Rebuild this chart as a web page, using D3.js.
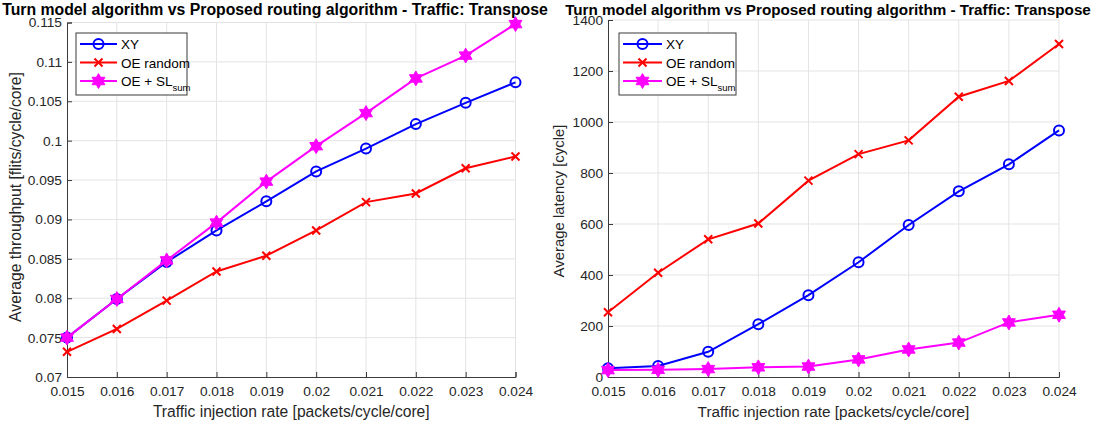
<!DOCTYPE html>
<html>
<head>
<meta charset="utf-8">
<script src="https://cdn.jsdelivr.net/npm/d3@7"></script>
<style>
  body { margin: 0; background: #fff; }
  svg { font-family: "Liberation Sans", Arial, sans-serif; }
</style>
</head>
<body>
<svg id="chart" width="1098" height="427"></svg>
<script>
// injection rates on the x axis
var rates = [0.015, 0.016, 0.017, 0.018, 0.019, 0.02, 0.021, 0.022, 0.023, 0.024]
var rateLabels = ['0.015', '0.016', '0.017', '0.018', '0.019', '0.02', '0.021', '0.022', '0.023', '0.024']

// throughput [flits/cycle/core]
var throughputXY = [0.0750, 0.0799, 0.0846, 0.0886, 0.0923, 0.0961, 0.0990, 0.1021, 0.1048, 0.1074]
var throughputOE = [0.0732, 0.0761, 0.0797, 0.0834, 0.0854, 0.0886, 0.0922, 0.0933, 0.0965, 0.0980]
var throughputSL = [0.0750, 0.0799, 0.0848, 0.0896, 0.0948, 0.0993, 0.1035, 0.1079, 0.1108, 0.1148]
var throughputTicks = [0.07, 0.075, 0.08, 0.085, 0.09, 0.095, 0.1, 0.105, 0.11, 0.115]
var throughputTickLabels = ['0.07', '0.075', '0.08', '0.085', '0.09', '0.095', '0.1', '0.105', '0.11', '0.115']

// latency [cycle]
var latencyXY = [34, 43, 99, 207, 321, 450, 596, 728, 834, 967]
var latencyOE = [254, 409, 540, 602, 770, 874, 928, 1099, 1161, 1306]
var latencySL = [27, 28, 31, 38, 41, 69, 108, 135, 214, 244]
var latencyTicks = [0, 200, 400, 600, 800, 1000, 1200, 1400]

var seriesNames = ['XY', 'OE random', 'OE + SL']
var seriesColors = ['#0000ff', '#ff0000', '#ff00ff']
var seriesMarkers = ['circle', 'cross', 'hexagram']

var title = 'Turn model algorithm vs Proposed routing algorithm - Traffic: Transpose'
var xTitle = 'Traffic injection rate [packets/cycle/core]'

var svg = d3.select('#chart')
var axisColor = '#3a3a3a'
var gridColor = '#e3e3e3'

// filled six-pointed star, as MATLAB's hexagram marker
var hexagram = {
  draw: function (context, size) {
    var R = Math.sqrt(size)
    var r = R / Math.sqrt(3)
    for (var i = 0; i < 12; i++) {
      var a = -Math.PI / 2 + i * Math.PI / 6
      var rr = i % 2 === 0 ? R : r
      if (i === 0) context.moveTo(rr * Math.cos(a), rr * Math.sin(a))
      else context.lineTo(rr * Math.cos(a), rr * Math.sin(a))
    }
    context.closePath()
  }
}

// scale font so the text spans the width measured on the picture
function fitText (sel, width) {
  var size = parseFloat(sel.style('font-size'))
  var w = sel.node().getComputedTextLength()
  sel.style('font-size', (size * width / w) + 'px')
}

function drawMarker (g, type, color, cx, cy) {
  if (type === 'circle') {
    g.append('circle').attr('cx', cx).attr('cy', cy).attr('r', 5)
      .attr('fill', 'none').attr('stroke', color).attr('stroke-width', 2)
  } else if (type === 'cross') {
    g.append('path')
      .attr('d', 'M' + (cx - 4) + ',' + (cy - 4) + 'L' + (cx + 4) + ',' + (cy + 4) +
        'M' + (cx - 4) + ',' + (cy + 4) + 'L' + (cx + 4) + ',' + (cy - 4))
      .attr('stroke', color).attr('stroke-width', 2)
  } else {
    g.append('path')
      .attr('transform', 'translate(' + cx + ',' + cy + ')')
      .attr('d', d3.symbol().type(hexagram).size(55)())
      .attr('fill', color).attr('stroke', color).attr('stroke-width', 1)
  }
}

function panel (opts) {
  var g = svg.append('g')
  var x = d3.scaleLinear().domain([rates[0], rates[rates.length - 1]]).range([opts.left, opts.right])
  var y = d3.scaleLinear().domain([opts.yTicks[0], opts.yTicks[opts.yTicks.length - 1]]).range([opts.bottom, opts.top])

  // grid
  g.append('g').selectAll('line').data(rates.slice(1)).enter().append('line')
    .attr('x1', function (d) { return x(d) }).attr('x2', function (d) { return x(d) })
    .attr('y1', opts.top).attr('y2', opts.bottom)
    .attr('stroke', gridColor).attr('stroke-width', 1)
  g.append('g').selectAll('line').data(opts.yTicks.slice(1)).enter().append('line')
    .attr('x1', opts.left).attr('x2', opts.right)
    .attr('y1', function (d) { return y(d) }).attr('y2', function (d) { return y(d) })
    .attr('stroke', gridColor).attr('stroke-width', 1)

  // axes with inward ticks
  var xAxis = d3.axisBottom(x).tickValues(rates).tickSize(-5).tickPadding(10)
    .tickFormat(function (d, i) { return rateLabels[i] })
  var yAxis = d3.axisLeft(y).tickValues(opts.yTicks).tickSize(-5).tickPadding(10)
    .tickFormat(function (d, i) { return opts.yLabels[i] })

  var gx = g.append('g').attr('transform', 'translate(0,' + opts.bottom + ')').call(xAxis)
  var gy = g.append('g').attr('transform', 'translate(' + opts.left + ',0)').call(yAxis)
  ;[gx, gy].forEach(function (a) {
    a.select('.domain').attr('stroke', axisColor)
    a.selectAll('.tick line').attr('stroke', axisColor)
    a.selectAll('.tick text').attr('fill', '#262626').style('font-size', '13.7px')
      .style('font-family', '"Liberation Sans", Arial, sans-serif')
  })
  gy.selectAll('.tick text').attr('x', -5)
  gx.selectAll('.tick text').attr('y', 9)

  // lines + markers
  var line = d3.line()
    .x(function (d, i) { return x(rates[i]) })
    .y(function (d) { return y(d) })

  opts.series.forEach(function (vals, k) {
    g.append('path').datum(vals)
      .attr('d', line).attr('fill', 'none')
      .attr('stroke', seriesColors[k]).attr('stroke-width', 2)
    var mg = g.append('g')
    vals.forEach(function (v, i) {
      drawMarker(mg, seriesMarkers[k], seriesColors[k], x(rates[i]), y(v))
    })
  })

  // title and axis labels
  var t = g.append('text').attr('x', opts.titleX).attr('y', 14.5)
    .attr('text-anchor', 'middle').style('font-size', '15px').style('font-weight', 'bold')
    .attr('fill', '#000').text(title)
  fitText(t, opts.titleW)
  var xl = g.append('text').attr('x', (opts.left + opts.right) / 2).attr('y', 417)
    .attr('text-anchor', 'middle').style('font-size', '14px').attr('fill', '#262626')
    .text(xTitle)
  fitText(xl, opts.xTitleW)
  var yl = g.append('text')
    .attr('transform', 'translate(' + opts.yTitleX + ',' + opts.yTitleY + ') rotate(-90)')
    .attr('text-anchor', 'middle').style('font-size', '14px').attr('fill', '#262626')
    .text(opts.yTitle)
  fitText(yl, opts.yTitleW)

  // legend
  var lg = g.append('g').attr('transform', 'translate(' + opts.legendX + ',33)')
  lg.append('rect').attr('width', opts.legendW).attr('height', 62)
    .attr('fill', '#fff').attr('stroke', axisColor).attr('stroke-width', 1)
  seriesNames.forEach(function (name, k) {
    var ry = 11 + k * 18.5
    lg.append('line').attr('x1', 4).attr('x2', opts.legendLine).attr('y1', ry).attr('y2', ry)
      .attr('stroke', seriesColors[k]).attr('stroke-width', 2)
    drawMarker(lg, seriesMarkers[k], seriesColors[k], (4 + opts.legendLine) / 2, ry)
    var lt = lg.append('text').attr('x', opts.legendLine + 4).attr('y', ry + 5)
      .style('font-size', '13.5px').attr('fill', '#000').text(name)
    if (k === 2) {
      lt.append('tspan').attr('dy', 5).style('font-size', '9.5px').text('sum')
    }
  })
}

panel({
  left: 67, right: 515.5, top: 22.5, bottom: 377,
  yTicks: throughputTicks, yLabels: throughputTickLabels,
  series: [throughputXY, throughputOE, throughputSL],
  yTitle: 'Average throughput [flits/cycle/core]', yTitleX: 21, yTitleY: 197, yTitleW: 250,
  titleX: 275, titleW: 546, xTitleW: 277,
  legendX: 76, legendW: 111, legendLine: 41
})

panel({
  left: 608, right: 1059, top: 20, bottom: 377,
  yTicks: latencyTicks, yLabels: latencyTicks.map(String),
  series: [latencyXY, latencyOE, latencySL],
  yTitle: 'Average latency [cycle]', yTitleX: 564, yTitleY: 201, yTitleW: 153,
  titleX: 828, titleW: 526, xTitleW: 272,
  legendX: 619, legendW: 117, legendLine: 43
})
</script>
</body>
</html>
